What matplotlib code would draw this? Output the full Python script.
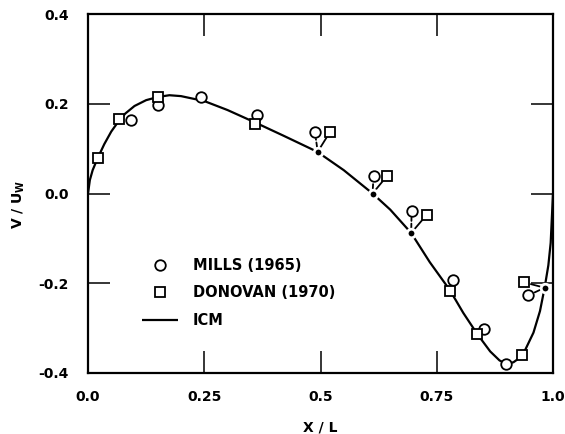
import matplotlib
matplotlib.use("Agg")
import matplotlib.pyplot as plt

# ---- data ----
mills_x = [0.092, 0.150, 0.244, 0.363, 0.488, 0.614, 0.696, 0.786, 0.851, 0.899, 0.947]
mills_y = [0.163, 0.197, 0.215, 0.175, 0.137, 0.039, -0.038, -0.193, -0.302, -0.379, -0.227]

donovan_x = [0.021, 0.066, 0.150, 0.359, 0.521, 0.643, 0.728, 0.778, 0.837, 0.934, 0.938]
donovan_y = [0.078, 0.165, 0.214, 0.155, 0.138, 0.039, -0.048, -0.218, -0.314, -0.361, -0.198]

icm_x = [0.0, 0.004, 0.010, 0.020, 0.035, 0.050, 0.065, 0.080, 0.100, 0.125, 0.150,
         0.175, 0.200, 0.250, 0.300, 0.360, 0.420, 0.493, 0.550, 0.612, 0.650, 0.695,
         0.735, 0.778, 0.807, 0.837, 0.865, 0.885, 0.900, 0.915, 0.934, 0.958, 0.972,
         0.982, 0.990, 0.995, 1.0]
icm_y = [0.0, 0.030, 0.052, 0.077, 0.110, 0.138, 0.160, 0.178, 0.195, 0.208, 0.215,
         0.219, 0.217, 0.206, 0.186, 0.158, 0.129, 0.093, 0.052, 0.0, -0.036, -0.088,
         -0.153, -0.215, -0.266, -0.313, -0.352, -0.372, -0.380, -0.376, -0.362, -0.310, -0.262,
         -0.210, -0.160, -0.110, 0.0]

dots_x = [0.494, 0.612, 0.695, 0.982]
dots_y = [0.093, 0.0, -0.088, -0.210]
# leader pairs: (dot index, mills index, donovan index)
leaders = [(0, 4, 4), (1, 5, 5), (2, 6, 6), (3, 10, 10)]

xticks = [0.0, 0.25, 0.5, 0.75, 1.0]
xticklabels = ["0.0", "0.25", "0.5", "0.75", "1.0"]
yticks = [0.4, 0.2, 0.0, -0.2, -0.4]
yticklabels = ["0.4", "0.2", "0.0", "-0.2", "-0.4"]

# ---- figure ----
fig = plt.figure(figsize=(5.65, 4.34), dpi=100)
ax = fig.add_axes([88 / 565, 1 - 373 / 434, (553 - 88) / 565, (373 - 14) / 434])

ax.plot(icm_x, icm_y, color="black", lw=1.6, solid_capstyle="butt", zorder=2, label="ICM")
ax.plot(dots_x, dots_y, "o", ms=6.2, mfc="black", mec="white", mew=2.0, zorder=3)

for d, m, n in leaders:
    last = d == 3
    ax.annotate("", xy=(mills_x[m], mills_y[m]), xytext=(dots_x[d], dots_y[d]),
                arrowprops=dict(arrowstyle="-", lw=1.3, color="black",
                                linestyle="-" if last else (0, (2.5, 1.5)),
                                shrinkA=3.5, shrinkB=5), zorder=2)
    ax.annotate("", xy=(donovan_x[n], donovan_y[n]), xytext=(dots_x[d], dots_y[d]),
                arrowprops=dict(arrowstyle="-", lw=1.3, color="black",
                                shrinkA=3.5, shrinkB=5), zorder=2)

ax.plot(mills_x, mills_y, "o", ms=7.6, mfc="white", mec="black", mew=1.3,
        linestyle="none", zorder=4, label="MILLS (1965)")
ax.plot(donovan_x, donovan_y, "s", ms=7.4, mfc="white", mec="black", mew=1.3,
        linestyle="none", zorder=4, label="DONOVAN (1970)")

ax.set_xlim(0, 1)
ax.set_ylim(-0.4, 0.4)
ax.set_xticks(xticks)
ax.set_xticklabels(xticklabels)
ax.set_yticks(yticks)
ax.set_yticklabels(yticklabels)
ax.tick_params(direction="in", length=16, width=1.1, top=True, right=True,
               labelsize=10, colors="black")
ax.tick_params(axis="x", pad=12)
ax.tick_params(axis="y", pad=14)
for lab in ax.get_xticklabels() + ax.get_yticklabels():
    lab.set_fontweight("bold")
for sp in ax.spines.values():
    sp.set_linewidth(1.6)

ax.set_xlabel("X / L", fontsize=10, fontweight="bold")
ax.xaxis.set_label_coords(0.499, -0.132)
ax.set_ylabel(r"V / U$_\mathbf{W}$", fontsize=10, fontweight="bold")
ax.yaxis.label.set_va("center")
ax.yaxis.set_label_coords(-0.148, 0.47)

h, l = ax.get_legend_handles_labels()
order = [1, 2, 0]
leg = ax.legend([h[i] for i in order], [l[i] for i in order], loc="center left",
                bbox_to_anchor=(0.116, 0.223), frameon=False, handlelength=2.5,
                handletextpad=1.0, labelspacing=0.85, borderpad=0, borderaxespad=0,
                prop=dict(size=10.5, weight="bold"))

fig.savefig("out.png", dpi=100)
